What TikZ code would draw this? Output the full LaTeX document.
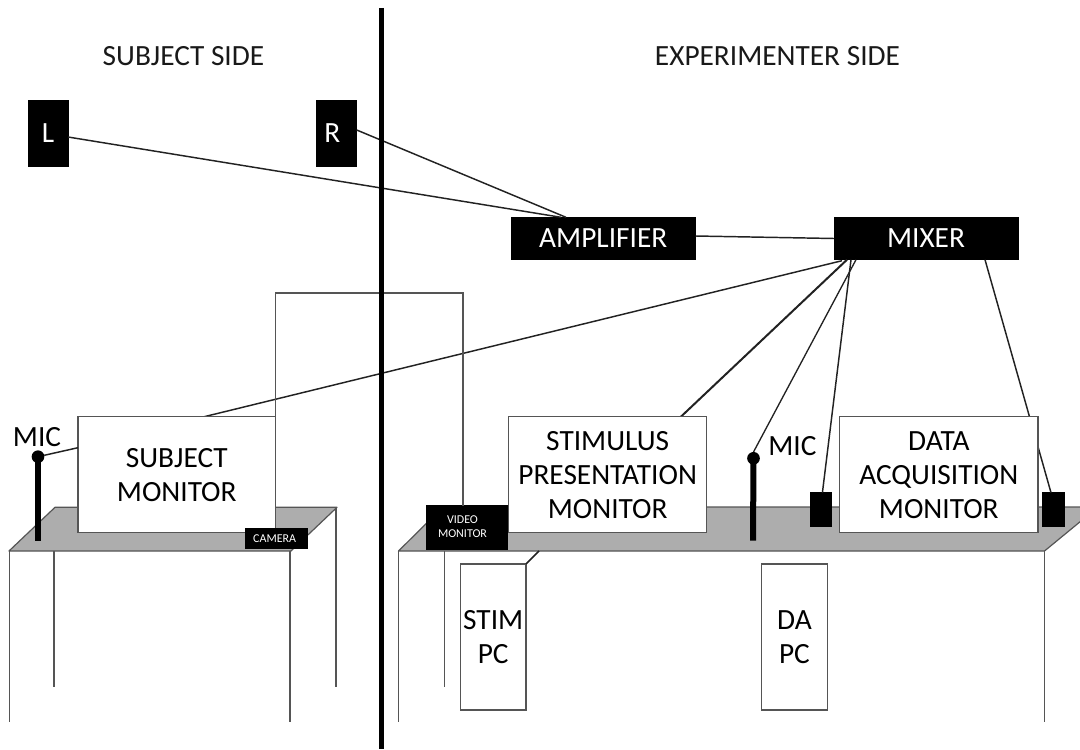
\documentclass[tikz,border=0pt]{standalone}
\usepackage{fontspec}
\setmainfont{Carlito}
\usetikzlibrary{calc}
\definecolor{tablegray}{HTML}{ADADAD}
\definecolor{edgegray}{HTML}{555555}
\definecolor{wire}{HTML}{222222}
\tikzset{
  big/.style={font=\fontsize{22}{25.5}\selectfont,align=center},
  title/.style={font=\fontsize{22}{26}\selectfont,inner sep=0pt,text=black!90},
  white box/.style={draw=edgegray,fill=white,line width=1.1pt,inner sep=0pt,outer sep=0pt,big},
  black box/.style={draw=black,fill=black,text=white,line width=0.5pt,inner sep=0pt,outer sep=0pt,big},
  small/.style={black box,font=\fontsize{9}{10.7}\selectfont,align=center},
  wirel/.style={draw=wire,line width=1.1pt},
  thin leg/.style={draw=edgegray,line width=1pt},
  surface/.style={fill=tablegray,draw=edgegray,line width=0.9pt,line join=round},
  stem/.style={draw=black,line width=4.5pt},
}
\newcommand{\bx}[7]{% name x1 y1 x2 y2 style text
  \pgfmathsetlengthmacro{\bw}{(#4-#2)*0.75pt}
  \pgfmathsetlengthmacro{\bh}{(#5-#3)*0.75pt}
  \node[#6,minimum width=\bw,minimum height=\bh] (#1) at ({(#2+#4)/2},{(#3+#5)/2}) {#7};
}
\begin{document}
\begin{tikzpicture}[x=0.75pt,y=-0.75pt]
\useasboundingbox (0,0) rectangle (1080,749);
\clip (0,0) rectangle (1080,749);
% divider
\coordinate (divtop) at (381.5,8);
\coordinate (divbot) at (381.5,749);
% titles
\node[title] (subjside) at (183.5,56) {SUBJECT SIDE};
\node[title] (expside) at (777.5,56) {EXPERIMENTER SIDE};
% tables
\draw[surface] (9,551) -- (55,507.3) -- (337,507.3) -- (291,551) -- cycle;
\draw[surface] (398.5,551) -- (443,507) -- (1098,507) -- (1044.5,551) -- cycle;
\foreach \lx/\ly/\ey in {9.6/551/721.7,54/551/686.7,290/551/721.7,336/507.3/686.7,398.8/551/721.7,444.6/551/686.7,1044.5/551/721.7}
  \draw[thin leg] (\lx,\ly) -- (\lx,\ey);
% speakers, amp, mixer
\bx{L}{28}{100}{68}{166}{black box}{L}
\bx{R}{316}{100}{356.7}{166}{black box}{\hspace*{-6pt}R}
\bx{amp}{511}{217.3}{695.5}{259.7}{black box}{AMPLIFIER}
\bx{mixer}{834}{217.3}{1018}{259.7}{black box}{MIXER}
% lower black boxes (drawn first for connectors)
\bx{spk1}{810}{492.7}{831.7}{526.3}{black box}{}
\bx{spk2}{1042.8}{492.7}{1064.4}{526.3}{black box}{}
\bx{vid}{426}{505.7}{507}{549}{small}{\hspace*{-6pt}\begin{tabular}{@{}c@{}}VIDEO\\MONITOR\end{tabular}}
% mic heads
\node[circle,fill=black,minimum size=9.5pt,inner sep=0pt,outer sep=0pt] (micA) at (38,456.7) {};
\node[circle,fill=black,minimum size=9.5pt,inner sep=0pt,outer sep=0pt] (micB) at (753.5,458.3) {};
\coordinate (micAfoot) at (38,540.7);
\coordinate (micBfoot) at (753,540.7);
\draw[stem] (micA.center) -- (micAfoot);
\draw[stem] (micB.center) -- (micBfoot);
% wires behind monitors
\draw[wirel] ($(mixer.south west)+(8,1)$) -- (203,417);
\draw[wirel,line width=1.5pt] ($(mixer.south west)+(13,0)$) -- (680.6,417);
\draw[wirel,line width=1pt] ($(mixer.south west)+(22,0)$) -- (micB.north);
\draw[wirel] ($(mixer.south west)+(17,0)$) -- (spk1.north -| 822.4,0);
\draw[wirel] ($(mixer.south west)+(151,0)$) -- (spk2.north -| 1051,0);
% monitors
\bx{subj}{78}{416.7}{275.5}{532.7}{white box}{SUBJECT\\MONITOR}
\bx{stim}{508.6}{416.7}{706.7}{532.7}{white box}{STIMULUS\\PRESENTATION\\MONITOR}
\bx{data}{839.6}{416.7}{1038}{532.7}{white box}{DATA\\ACQUISITION\\MONITOR}
\bx{cam}{245}{528.3}{307}{548.7}{small}{\hspace*{-2pt}CAMERA}
\bx{stimpc}{460.4}{564}{526}{710}{white box}{STIM\\PC}
\bx{dapc}{761.4}{564}{827.5}{710}{white box}{DA\\PC}
% mic labels
\node[big,inner sep=0pt] (micAl) at (37,436.7) {MIC};
\node[big,inner sep=0pt] (micBl) at (792.4,446) {MIC};
% other wires
\draw[wirel] (L.east |- 0,137) -- ($(amp.north west)+(50,0)$);
\draw[wirel] (R.east |- 0,130) -- ($(amp.north west)+(55,0)$);
\draw[wirel] (amp.east |- 0,236) -- (mixer.west);
\draw[wirel] (micA) -- (subj.west |- 0,447.7);
\draw[thin leg] (subj.north east) -- (275.5,293) -- (463,293) -- (vid.north -| 463,0);
\draw[wirel] (stimpc.north east) -- (539,551);
% divider on top
\draw[line width=3.2pt,black] (divtop) -- (divbot);
\end{tikzpicture}
\end{document}
